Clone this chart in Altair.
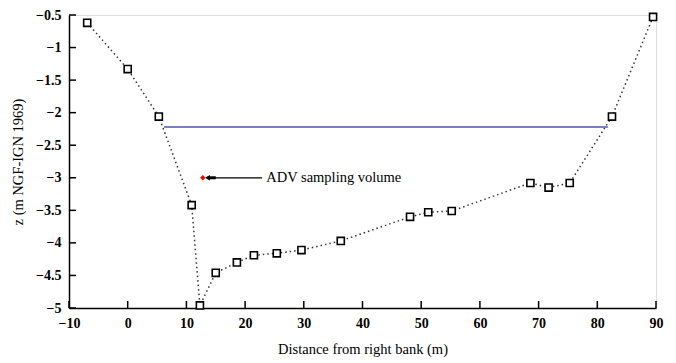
import altair as alt
import pandas as pd

dist = [-6.9, 0.0, 5.3, 10.9, 12.3, 15.0, 18.6, 21.5, 25.4, 29.6, 36.3, 48.1, 51.2, 55.2, 68.6, 71.7, 75.3, 82.5, 89.5]
z = [-0.62, -1.33, -2.06, -3.42, -4.96, -4.46, -4.30, -4.19, -4.16, -4.11, -3.97, -3.60, -3.53, -3.51, -3.08, -3.15, -3.08, -2.06, -0.53]

water_x = [6.2, 81.8]
water_z = [-2.22, -2.22]

adv_x = [12.8]
adv_z = [-3.0]

x_ticks = [-10, 0, 10, 20, 30, 40, 50, 60, 70, 80, 90]
y_ticks = [-0.5, -1, -1.5, -2, -2.5, -3, -3.5, -4, -4.5, -5]

W, H = 587, 293
FONT = "Liberation Serif"

prof = pd.DataFrame({"x": dist, "z": z})
water = pd.DataFrame({"x": water_x, "z": water_z})
adv = pd.DataFrame({"x": adv_x, "z": adv_z})
arrow = pd.DataFrame({"x": [13.4], "x2": [22.9], "z": [-3.0]})
head = pd.DataFrame({"x": [13.6], "x2": [15.0], "z": [-3.0]})
lab = pd.DataFrame({"x": [23.6], "z": [-3.0], "t": ["ADV sampling volume"]})
xt = pd.DataFrame({"x": x_ticks})
yt = pd.DataFrame({"z": y_ticks})

xs = alt.Scale(domain=[-10, 90], nice=False, zero=False)
ys = alt.Scale(domain=[-5, -0.5], nice=False, zero=False)

common = dict(tickSize=0, labelPadding=8, labelFont=FONT, labelFontSize=14,
              labelFontWeight="bold", labelColor="black", domainColor="black", domainWidth=1.5,
              grid=False, labelOverlap=False, labelFlush=False, titleFont=FONT, titleFontSize=14.5,
              titleFontWeight="normal", titleColor="black")
xax = alt.Axis(values=x_ticks, title="Distance from right bank (m)", titlePadding=12, format="d", **common)
yax = alt.Axis(values=y_ticks, title="z (m NGF-IGN 1969)", titlePadding=10, format="~g", **common)

X = alt.X("x:Q", scale=xs, axis=xax)
Y = alt.Y("z:Q", scale=ys, axis=yax)
X2 = alt.X2("x2:Q")

line = alt.Chart(prof).mark_line(color="#333333", strokeDash=[1.5, 3], strokeWidth=1.5).encode(x=X, y=Y)
pts = alt.Chart(prof).mark_point(shape="square", size=50, filled=False, color="black",
                                 strokeWidth=1.6, fill="white", fillOpacity=1, opacity=1).encode(x=X, y=Y)
wl = alt.Chart(water).mark_line(color="#5555aa", strokeWidth=1.6).encode(x=X, y=Y)
arr = alt.Chart(arrow).mark_rule(color="black", strokeWidth=1.2).encode(x=X, x2=X2, y=Y)
hd = alt.Chart(head).mark_rule(color="black", strokeWidth=3).encode(x=X, x2=X2, y=Y)
tri = alt.Chart(head).mark_point(shape="triangle-left", size=30, filled=True, color="black",
                                 opacity=1).encode(x=X, y=Y)
red = alt.Chart(adv).mark_point(shape="diamond", size=30, filled=True, color="red",
                                opacity=1).encode(x=X, y=Y)
txt = alt.Chart(lab).mark_text(align="left", baseline="middle", font=FONT, fontSize=14.5,
                               color="black").encode(x=X, y=Y, text="t:N")
xtk = alt.Chart(xt).mark_rule(color="black", strokeWidth=1.5).encode(
    x=X, y=alt.value(H), y2=alt.value(H - 7))
ytk = alt.Chart(yt).mark_rule(color="black", strokeWidth=1.5).encode(
    y=Y, x=alt.value(0), x2=alt.value(7))

chart = alt.layer(line, wl, arr, hd, tri, red, txt, pts, xtk, ytk).properties(
    width=W, height=H,
    autosize=alt.AutoSizeParams(type="none"),
    padding={"left": 61, "top": 7, "right": 10, "bottom": 50},
).configure_view(stroke=None).configure(background="white")

chart.save("out.html", embed_options={"renderer": "svg", "actions": False})
